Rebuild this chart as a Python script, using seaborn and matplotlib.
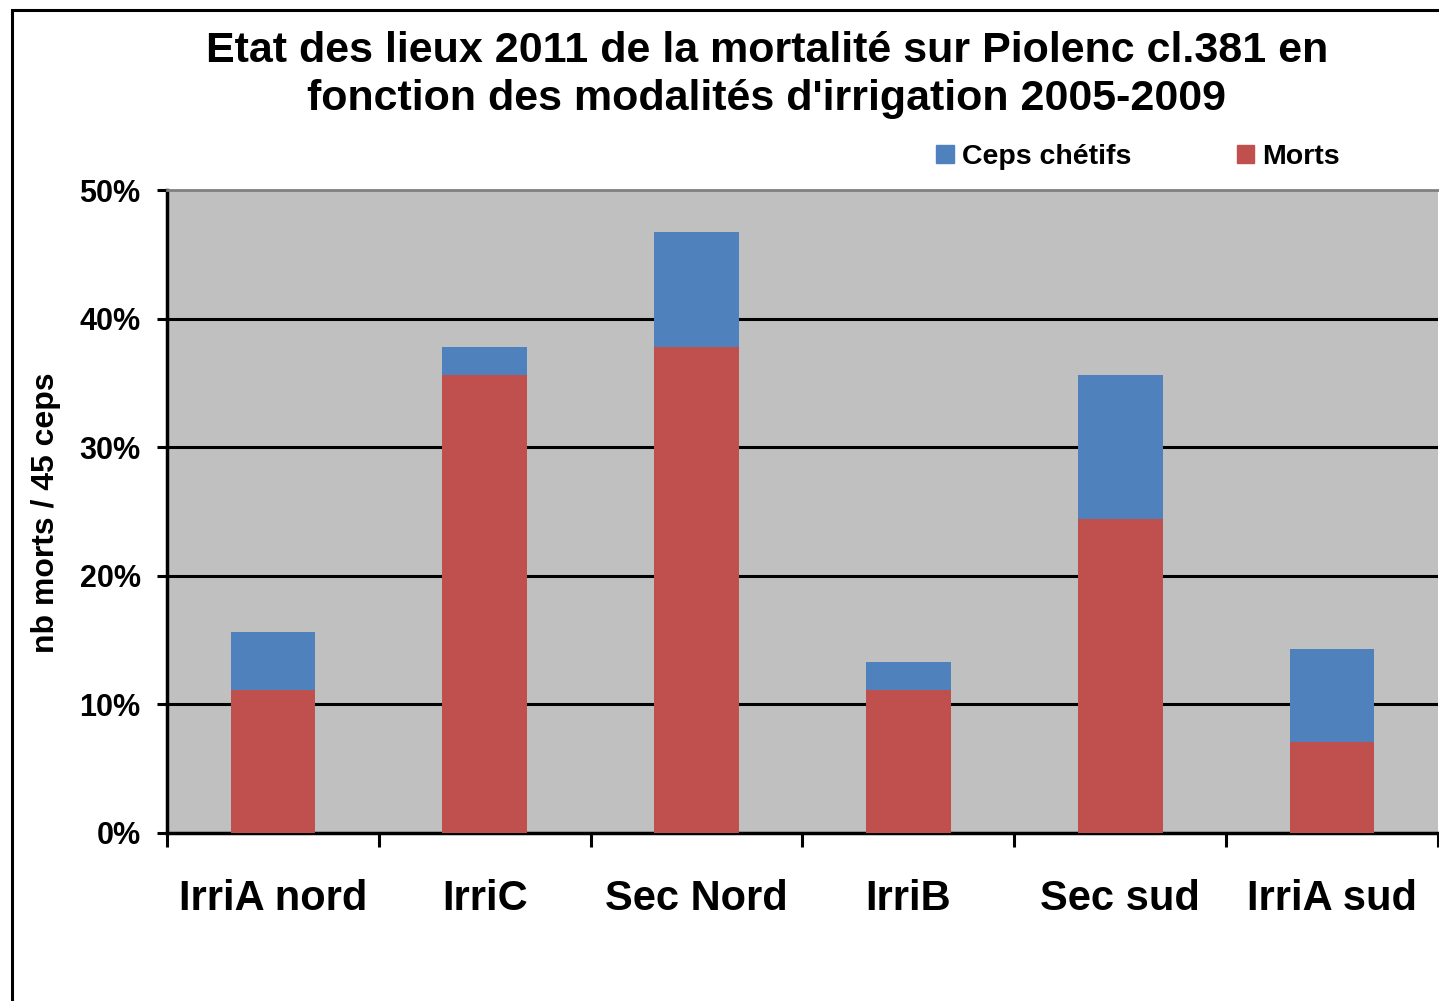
import numpy as np
import pandas as pd
import matplotlib
matplotlib.use('Agg')
import matplotlib.pyplot as plt
import matplotlib.patches as mpatches
import seaborn as sns

categories = ['IrriA nord', 'IrriC', 'Sec Nord', 'IrriB', 'Sec sud', 'IrriA sud']
morts = [11.1, 35.6, 37.8, 11.1, 24.4, 7.1]
chetifs = [4.5, 2.2, 8.9, 2.2, 11.2, 7.2]
yticks = [0, 10, 20, 30, 40, 50]

blue = '#4F81BD'
red = '#C0504D'

df = pd.DataFrame({'site': categories, 'morts': morts, 'chetifs': chetifs})
df['total'] = df['morts'] + df['chetifs']

sns.set_style('white')
plt.rcParams['font.family'] = ['Liberation Sans', 'DejaVu Sans']
plt.rcParams['font.weight'] = 'bold'
plt.rcParams['text.color'] = 'black'
plt.rcParams['xtick.color'] = 'black'
plt.rcParams['ytick.color'] = 'black'

fig = plt.figure(figsize=(14.39, 10.01), dpi=100)
ax = fig.add_axes([167 / 1439, 168 / 1001, 1271 / 1439, 643 / 1001])
ax.set_facecolor('#C0C0C0')

sns.barplot(data=df, x='site', y='total', order=categories, color=blue,
            width=0.4, saturation=1, linewidth=0, ax=ax, zorder=3)
sns.barplot(data=df, x='site', y='morts', order=categories, color=red,
            width=0.4, saturation=1, linewidth=0, ax=ax, zorder=3)

ax.set_xlim(-0.5, len(categories) - 0.5)
ax.set_ylim(0, 50)
ax.set_yticks(yticks)
ax.set_yticklabels([f'{v}%' for v in yticks], fontsize=22, fontweight='bold')
for v in yticks[1:-1]:
    ax.axhline(v, color='black', lw=2.2, zorder=1)

# boundary ticks between categories, labels centred under bars
ax.set_xticks(np.arange(-0.5, len(categories), 1.0))
ax.set_xticklabels([])
ax.set_xticks(np.arange(len(categories)), minor=True)
ax.set_xticklabels(categories, minor=True, fontsize=30, fontweight='bold')
ax.tick_params(axis='x', which='major', direction='out', length=10, width=2.2,
               color='black', bottom=True)
ax.tick_params(axis='x', which='minor', length=0, pad=33)
ax.tick_params(axis='y', direction='out', length=7, width=2.2, color='black',
               left=True, pad=12)
ax.set_xlabel('')
ax.set_ylabel('')

for s in ['left', 'bottom']:
    ax.spines[s].set_color('black')
    ax.spines[s].set_linewidth(2.5)
ax.spines['top'].set_color('#808080')
ax.spines['top'].set_linewidth(2)
ax.spines['right'].set_visible(False)

fig.text(0.533, 0.925,
         "Etat des lieux 2011 de la mortalité sur Piolenc cl.381 en\n"
         "fonction des modalités d'irrigation 2005-2009",
         ha='center', va='center', fontsize=31, fontweight='bold', linespacing=1.25)
fig.text(0.032, 0.4875, 'nb morts / 45 ceps', rotation=90, ha='center',
         va='center', fontsize=23, fontweight='bold')

handles = [mpatches.Patch(color=blue, label='Ceps chétifs'),
           mpatches.Patch(color=red, label='Morts')]
fig.legend(handles=handles, loc='center', bbox_to_anchor=(0.791, 0.843), ncol=2,
           frameon=False, prop={'size': 20.5, 'weight': 'bold'}, handlelength=0.6,
           handleheight=0.6, handletextpad=0.3, columnspacing=3.7)

fig.add_artist(mpatches.Rectangle((12 / 1439, -0.1), 1.2, 1 - 10 / 1001 + 0.1,
                                  transform=fig.transFigure, fill=False,
                                  edgecolor='black', lw=2.2))

fig.savefig('out.png', dpi=100)
